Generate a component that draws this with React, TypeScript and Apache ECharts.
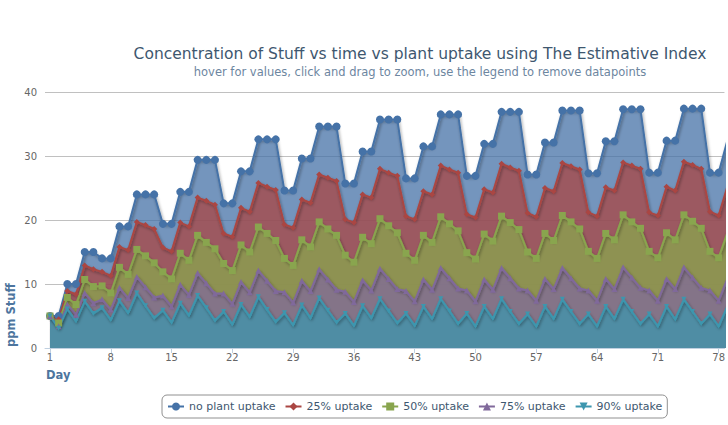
import React, { useEffect, useRef } from "react";
import * as echarts from "echarts";

const seriesNames = ["no plant uptake", "25% uptake", "50% uptake", "75% uptake", "90% uptake"];
const dayTicks = [1, 8, 15, 22, 29, 36, 43, 50, 57, 64, 71, 78];

// values per day, starting at day 1
const noUptake = [
  5, 5, 10, 10, 15, 15,
  14, 14, 19, 19, 24, 24, 24,
  19.4, 19.4, 24.4, 24.4, 29.4, 29.4, 29.4,
  22.6, 22.6, 27.6, 27.6, 32.6, 32.6, 32.6,
  24.6, 24.6, 29.6, 29.6, 34.6, 34.6, 34.6,
  25.7, 25.7, 30.7, 30.7, 35.7, 35.7, 35.7,
  26.5, 26.5, 31.5, 31.5, 36.5, 36.5, 36.5,
  26.9, 26.9, 31.9, 31.9, 36.9, 36.9, 36.9,
  27.1, 27.1, 32.1, 32.1, 37.1, 37.1, 37.1,
  27.3, 27.3, 32.3, 32.3, 37.3, 37.3, 37.3,
  27.4, 27.4, 32.4, 32.4, 37.4, 37.4, 37.4,
  27.4, 27.4, 32.4,
];
const uptake25 = [
  5, 4.5, 8.9, 8.4, 12.9, 12.3,
  11.9, 11.3, 15.8, 15.3, 19.7, 19.2, 18.6,
  15.7, 15.1, 19.6, 19.0, 23.5, 23.0, 22.4,
  17.9, 17.4, 21.9, 21.3, 25.8, 25.2, 24.7,
  19.3, 18.8, 23.2, 22.7, 27.1, 26.6, 26.1,
  20.1, 19.6, 24.0, 23.5, 28.0, 27.4, 26.9,
  20.6, 20.1, 24.5, 24.0, 28.5, 27.9, 27.4,
  20.9, 20.4, 24.8, 24.3, 28.8, 28.2, 27.7,
  21.1, 20.5, 25.0, 24.5, 28.9, 28.4, 27.9,
  21.2, 20.6, 25.1, 24.6, 29.0, 28.5, 28.0,
  21.2, 20.7, 25.2, 24.6, 29.1, 28.6, 28.0,
  21.3, 20.7, 25.2,
];
const uptake50 = [
  5, 3.9, 7.9, 6.8, 10.7, 9.6,
  9.7, 8.6, 12.6, 11.5, 15.4, 14.4, 13.3,
  11.9, 10.8, 14.8, 13.7, 17.6, 16.5, 15.5,
  13.2, 12.1, 16.1, 15.0, 18.9, 17.9, 16.8,
  14.0, 12.9, 16.9, 15.8, 19.7, 18.6, 17.6,
  14.5, 13.4, 17.3, 16.3, 20.2, 19.1, 18.0,
  14.8, 13.7, 17.6, 16.5, 20.5, 19.4, 18.3,
  14.9, 13.9, 17.8, 16.7, 20.6, 19.6, 18.5,
  15.0, 14.0, 17.9, 16.8, 20.7, 19.7, 18.6,
  15.1, 14.0, 17.9, 16.9, 20.8, 19.7, 18.7,
  15.1, 14.1, 18.0, 16.9, 20.8, 19.8, 18.7,
  15.1, 14.1, 18.0,
];
const uptake75 = [
  5, 3.4, 6.8, 5.2, 8.6, 7.0,
  7.6, 6.0, 9.4, 7.8, 11.1, 9.5, 7.9,
  8.2, 6.5, 9.9, 8.3, 11.7, 10.1, 8.5,
  8.5, 6.9, 10.3, 8.7, 12.1, 10.5, 8.9,
  8.7, 7.1, 10.5, 8.9, 12.3, 10.7, 9.1,
  8.8, 7.2, 10.6, 9.0, 12.4, 10.8, 9.2,
  8.9, 7.3, 10.7, 9.1, 12.5, 10.9, 9.3,
  9.0, 7.3, 10.7, 9.1, 12.5, 10.9, 9.3,
  9.0, 7.4, 10.8, 9.2, 12.5, 10.9, 9.3,
  9.0, 7.4, 10.8, 9.2, 12.6, 11.0, 9.4,
  9.0, 7.4, 10.8, 9.2, 12.6, 11.0, 9.4,
  9.0, 7.4, 10.8,
];
const uptake90 = [
  5, 3.1, 6.1, 4.2, 7.3, 5.4,
  6.3, 4.4, 7.4, 5.5, 8.6, 6.6, 4.7,
  5.9, 4.0, 7.0, 5.1, 8.2, 6.3, 4.3,
  5.7, 3.7, 6.8, 4.9, 8.0, 6.0, 4.1,
  5.5, 3.6, 6.7, 4.7, 7.8, 5.9, 4.0,
  5.4, 3.5, 6.6, 4.7, 7.7, 5.8, 3.9,
  5.4, 3.5, 6.5, 4.6, 7.7, 5.8, 3.8,
  5.4, 3.4, 6.5, 4.6, 7.7, 5.7, 3.8,
  5.3, 3.4, 6.5, 4.6, 7.6, 5.7, 3.8,
  5.3, 3.4, 6.5, 4.6, 7.6, 5.7, 3.8,
  5.3, 3.4, 6.5, 4.5, 7.6, 5.7, 3.8,
  5.3, 3.4, 6.5,
];

const seriesValues = [noUptake, uptake25, uptake50, uptake75, uptake90];
const colors = ["#4572A7", "#AA4643", "#89A54E", "#80699B", "#3D96AE"];
const symbols = ["circle", "diamond", "rect", "triangle", "triangle"];
const symbolSizes = [8, 6, 7, 6, 5];
const rotations = [0, 0, 0, 0, 180];

export default function App() {
  const ref = useRef<HTMLDivElement>(null);
  useEffect(() => {
    document.body.style.margin = "0";
    const chart = echarts.init(ref.current as HTMLDivElement, null, { renderer: "svg" });
    const font = "DejaVu Sans";
    const series = seriesNames.map((name, k) => ({
      name,
      type: "line",
      data: seriesValues[k].map((v, i) => [i + 1, v]),
      symbol: symbols[k],
      symbolSize: symbolSizes[k],
      symbolRotate: rotations[k],
      showSymbol: true,
      clip: true,
      lineStyle: {
        color: colors[k],
        width: 2,
        join: "round",
        shadowColor: "rgba(0,0,0,0.4)",
        shadowBlur: 3,
        shadowOffsetX: 1,
        shadowOffsetY: 1.5,
      },
      itemStyle: { color: colors[k], borderWidth: 0 },
      areaStyle: { color: colors[k], opacity: 0.75 },
      emphasis: { disabled: true },
    }));
    chart.setOption({
      animation: false,
      grid: { left: 45, right: 0, top: 92, bottom: 77 },
      xAxis: {
        type: "value",
        min: 0.427,
        max: 78.67,
        axisLine: { lineStyle: { color: "#C0D0E0", width: 1 } },
        axisTick: { customValues: dayTicks, length: 5, lineStyle: { color: "#C0D0E0" } },
        axisLabel: { customValues: dayTicks, color: "#666666", fontSize: 10, fontFamily: font, margin: 4 },
        splitLine: { show: false },
      },
      yAxis: {
        type: "value",
        min: 0,
        max: 40,
        interval: 10,
        axisLine: { show: false },
        axisTick: { show: false },
        axisLabel: { color: "#666666", fontSize: 10, fontFamily: font, margin: 8 },
        splitLine: { lineStyle: { color: "#C0C0C0", width: 1 } },
      },
      legend: {
        data: seriesNames,
        left: 162,
        top: 395,
        orient: "horizontal",
        itemWidth: 16,
        itemHeight: 10,
        itemGap: 9,
        padding: [6, 5],
        borderColor: "#909090",
        borderWidth: 1,
        borderRadius: 5,
        backgroundColor: "#ffffff",
        textStyle: { color: "#3E576F", fontSize: 11, fontFamily: font },
      },
      graphic: [
        {
          type: "text",
          x: 420,
          y: 54,
          style: {
            text: "Concentration of Stuff vs time vs plant uptake using The Estimative Index",
            fill: "#3E576F",
            font: `15.5px "${font}"`,
            textAlign: "center",
            textVerticalAlign: "middle",
          },
        },
        {
          type: "text",
          x: 420,
          y: 72,
          style: {
            text: "hover for values, click and drag to zoom, use the legend to remove datapoints",
            fill: "#6D869F",
            font: `11.5px "${font}"`,
            textAlign: "center",
            textVerticalAlign: "middle",
          },
        },
        {
          type: "text",
          x: 46,
          y: 375,
          style: {
            text: "Day",
            fill: "#4D759E",
            font: `bold 11.5px "${font}"`,
            textAlign: "left",
            textVerticalAlign: "middle",
          },
        },
        {
          type: "text",
          x: 11,
          y: 347,
          rotation: Math.PI / 2,
          style: {
            text: "ppm Stuff",
            fill: "#4D759E",
            font: `bold 11.5px "${font}"`,
            textAlign: "left",
            textVerticalAlign: "middle",
          },
        },
      ],
      series,
    });
    return () => chart.dispose();
  }, []);
  return <div ref={ref} style={{ width: 728, height: 425 }} />;
}
